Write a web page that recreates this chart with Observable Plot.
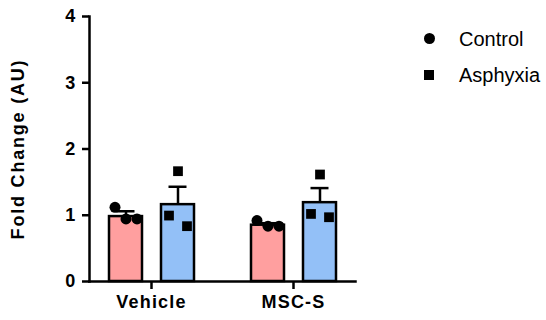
<!DOCTYPE html>
<html>
<head>
<meta charset="utf-8">
<script src="https://cdn.jsdelivr.net/npm/d3@7"></script>
<script src="https://cdn.jsdelivr.net/npm/@observablehq/plot@0.6"></script>
<style>
  html, body { margin: 0; padding: 0; background: #fff; }
  #wrap { position: relative; width: 546px; height: 320px; }
  .leg { position: absolute; left: 459px; font: 20px "Liberation Sans", Arial, sans-serif; line-height: 20px; color: #000; white-space: nowrap; }
  .sym { position: absolute; background: #000; }
  g[aria-label="y-axis label"] text { letter-spacing: 1.8px; }
</style>
</head>
<body>
<div id="wrap"></div>
<script>
// ---- data ----
const groups = ["Vehicle", "MSC-S"];
const conditions = ["Control", "Asphyxia"];
const colors = ["#ff9f9f", "#93c0f7"];
// bar means and SEM, order: [group][condition]
const meanVehicle = [0.98, 1.16];
const meanMSCS = [0.85, 1.19];
const semVehicle = [0.08, 0.27];
const semMSCS = [0.03, 0.22];
// individual points (left, middle, right replicate)
const ptsVehicleControl = [1.12, 0.945, 0.945];
const ptsVehicleAsphyxia = [0.995, 1.665, 0.835];
const ptsMSCSControl = [0.92, 0.835, 0.835];
const ptsMSCSAsphyxia = [1.02, 1.615, 0.97];
const yTicks = [0, 1, 2, 3, 4];
const yLabel = "Fold Change (AU)";

// ---- tables ----
const bars = [];
[meanVehicle, meanMSCS].forEach((m, gi) => m.forEach((v, ci) => bars.push({
  group: groups[gi], condition: conditions[ci], mean: v,
  sem: [semVehicle, semMSCS][gi][ci]
})));
const pts = [];
[[ptsVehicleControl, ptsVehicleAsphyxia], [ptsMSCSControl, ptsMSCSAsphyxia]].forEach((g, gi) =>
  g.forEach((arr, ci) => arr.forEach((v, slot) => pts.push({
    group: groups[gi], condition: conditions[ci], value: v, slot
  }))));

const font = "'Liberation Sans', Arial, sans-serif";
const spread = {Control: 11, Asphyxia: 9};
const dotMarks = [];
for (const c of conditions) for (const s of [0, 1, 2]) {
  dotMarks.push(Plot.dot(pts.filter(d => d.condition === c && d.slot === s), {
    fx: "group", x: "condition", y: "value", symbol: "condition",
    fill: "black", stroke: "none", r: 5.5, dx: (s - 1) * spread[c]
  }));
}

const chart = Plot.plot({
  width: 546, height: 320,
  marginLeft: 89, marginRight: 191, marginTop: 16, marginBottom: 39,
  style: {fontFamily: font, background: "transparent", color: "#000"},
  fx: {domain: groups, paddingInner: 0.127, paddingOuter: 0, label: null, axis: null},
  x: {domain: conditions, paddingInner: 0.374, paddingOuter: 0.363, axis: null},
  y: {domain: [0, 4], axis: null},
  color: {domain: conditions, range: colors},
  symbol: {domain: conditions, range: ["circle", "square"]},
  marks: [
    Plot.barY(bars, {fx: "group", x: "condition", y: "mean", fill: "condition", stroke: "black", strokeWidth: 2.5}),
    Plot.ruleX(bars, {fx: "group", x: "condition", y1: "mean", y2: d => d.mean + d.sem, stroke: "black", strokeWidth: 2.5}),
    Plot.tickY(bars, {fx: "group", x: "condition", y: d => d.mean + d.sem, stroke: "black", strokeWidth: 2.5, inset: 7.5}),
    ...dotMarks,
    Plot.frame({anchor: "bottom", facet: "super", stroke: "black", strokeWidth: 2.5}),
    Plot.frame({anchor: "left", facet: "super", stroke: "black", strokeWidth: 2.5}),
    Plot.axisY({ticks: yTicks, tickFormat: d => String(d), tickSize: 7, tickPadding: 6, strokeWidth: 2.5,
      fontSize: 18, fontWeight: "bold", fontFamily: font,
      label: yLabel, labelAnchor: "center", labelArrow: "none", labelOffset: 78}),
    Plot.axisFx({anchor: "bottom", tickSize: 8, tickPadding: 6, strokeWidth: 2.5,
      fontSize: 18, fontWeight: "bold", fontFamily: font, label: null})
  ]
});
chart.style.letterSpacing = "1.2px";
const wrap = document.getElementById("wrap");
wrap.appendChild(chart);

// legend
const legendItems = [
  {label: conditions[0], shape: "circle", top: 29},
  {label: conditions[1], shape: "square", top: 65}
];
for (const it of legendItems) {
  const t = document.createElement("div");
  t.className = "leg"; t.style.top = it.top + "px"; t.textContent = it.label;
  wrap.appendChild(t);
  const s = document.createElement("div");
  s.className = "sym";
  if (it.shape === "circle") {
    Object.assign(s.style, {left: "424px", top: (it.top + 4) + "px", width: "11px", height: "11px", borderRadius: "50%"});
  } else {
    Object.assign(s.style, {left: "424px", top: (it.top + 5) + "px", width: "10px", height: "10px"});
  }
  wrap.appendChild(s);
}
</script>
</body>
</html>
